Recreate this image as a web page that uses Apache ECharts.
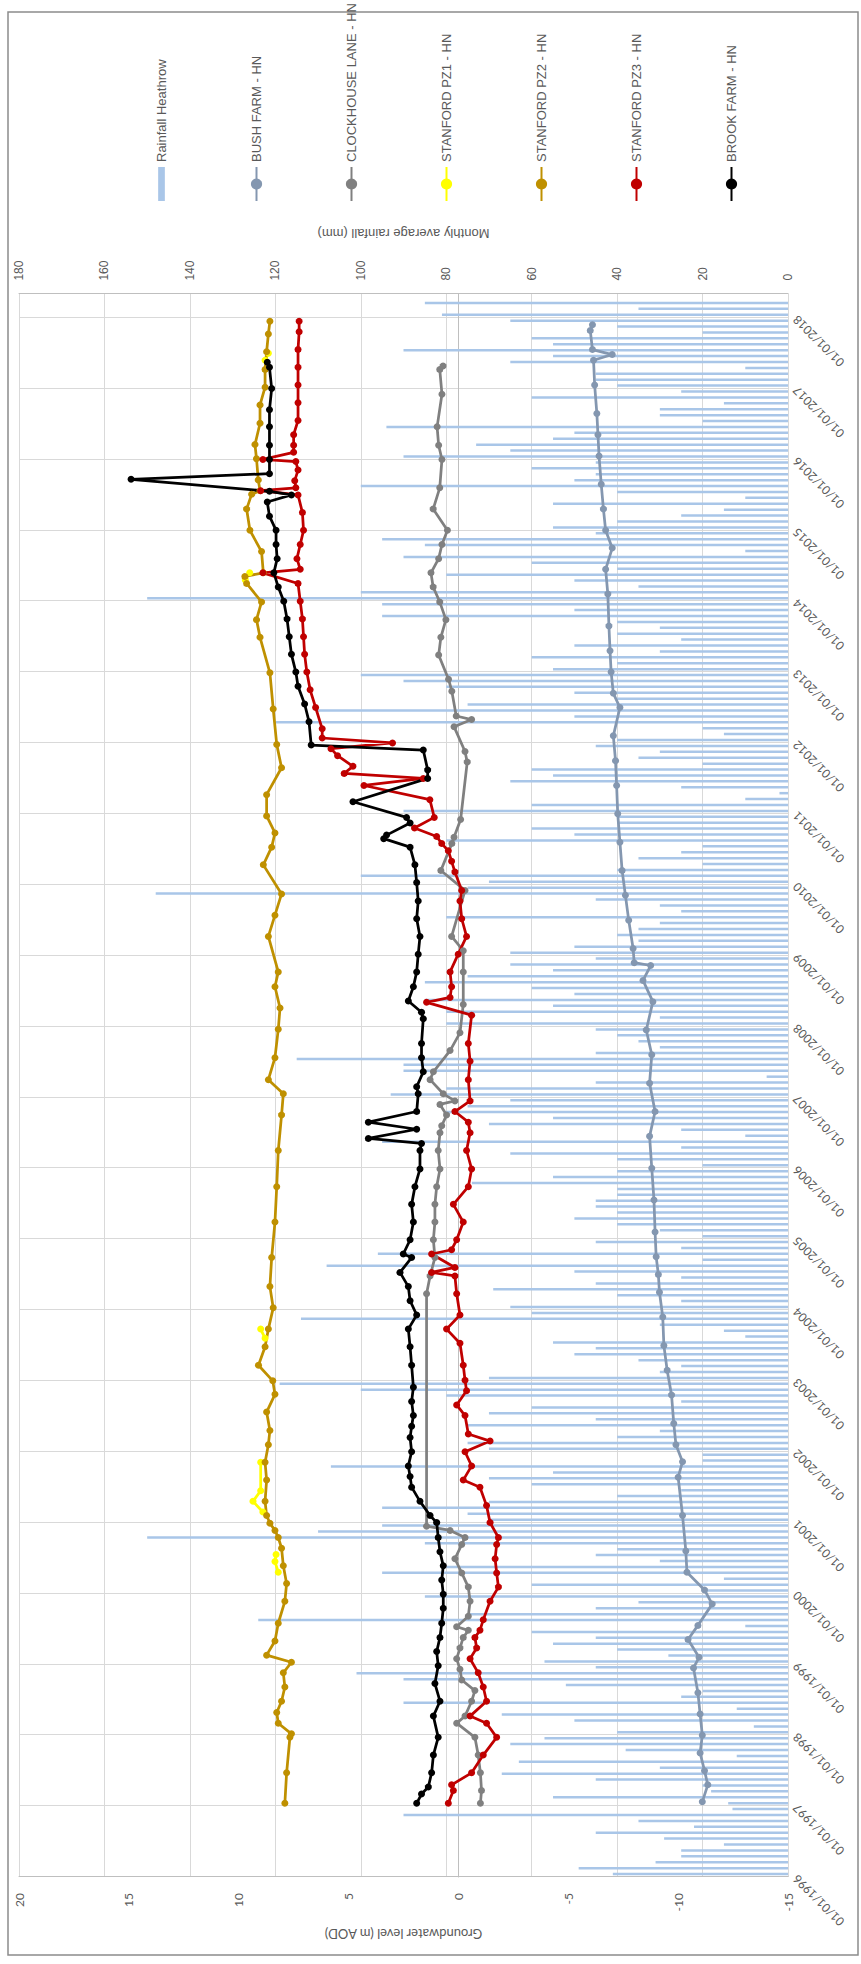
<!DOCTYPE html>
<html>
<head>
<meta charset="utf-8">
<script src="https://cdn.jsdelivr.net/npm/echarts@6.0.0/dist/echarts.min.js"></script>
<style>
html, body { margin: 0; padding: 0; background: #fff; overflow: hidden; width: 861px; height: 1964px; }
/* chart is drawn landscape, then turned a quarter turn anticlockwise like the scan */
#main { position: absolute; left: 0; top: 0; width: 1964px; height: 861px; transform-origin: 0 0; transform: translateY(1964px) rotate(-90deg); }
</style>
</head>
<body>
<div id="main"></div>
<script>
// monthly rainfall Heathrow (mm), Jan 1996 .. Mar 2018
const rainfall = [
  41, 49, 31, 25, 25, 15, 29, 45, 22, 35, 90, 13,
  14, 55, 18, 20, 45, 67, 30, 63, 12, 38, 65, 57,
  40, 8, 50, 67, 12, 90, 25, 20, 52, 90, 101, 45,
  57, 28, 40, 55, 45, 60, 10, 124, 75, 45, 35, 85,
  20, 60, 15, 95, 80, 30, 45, 40, 85, 150, 110, 95,
  70, 75, 95, 70, 40, 25, 60, 70, 55, 107, 20, 20,
  70, 75, 40, 30, 75, 45, 70, 60, 25, 80, 100, 119,
  70, 30, 25, 35, 50, 45, 55, 10, 15, 30, 114, 60,
  65, 25, 40, 69, 45, 25, 50, 108, 20, 96, 25, 45,
  20, 30, 40, 50, 40, 45, 45, 40, 40, 74, 55, 40,
  20, 40, 65, 25, 95, 10, 25, 70, 55, 80, 75, 65,
  93, 80, 45, 5, 90, 90, 115, 45, 30, 35, 40, 45,
  80, 30, 80, 55, 85, 50, 60, 85, 75, 55, 65, 45,
  65, 50, 35, 40, 35, 30, 80, 25, 30, 45, 148, 75,
  70, 100, 40, 20, 35, 25, 20, 80, 50, 60, 40, 40,
  90, 60, 10, 2, 25, 65, 55, 60, 20, 35, 30, 45,
  40, 15, 20, 120, 50, 110, 75, 40, 50, 80, 90, 100,
  55, 40, 60, 30, 50, 25, 40, 30, 40, 95, 50, 95,
  150, 100, 35, 50, 80, 40, 60, 90, 10, 85, 95, 45,
  55, 40, 25, 15, 55, 10, 40, 100, 50, 45, 60, 45,
  90, 65, 73, 55, 50, 94, 20, 30, 30, 15, 60, 25,
  40, 45, 45, 10, 65, 55, 90, 55, 60, 20, 40, 65,
  81, 35, 85
]
const rainStart = 1996

// groundwater levels, [decimal year, m AOD]
const bushFarm = [
  [1997.06,-11.1],[1997.3,-11.35],[1997.5,-11.2],[1997.75,-11.0],[1998.0,-11.1],[1998.3,-11.0],
  [1998.6,-10.9],[1998.95,-10.7],[1999.1,-10.95],[1999.35,-10.45],[1999.55,-10.9],[1999.85,-11.55],
  [2000.05,-11.2],[2000.3,-10.4],[2000.6,-10.35],[2001.1,-10.2],[2001.64,-10.0],[2001.86,-10.2],
  [2002.1,-9.9],[2002.4,-9.8],[2002.8,-9.7],[2003.15,-9.5],[2003.5,-9.35],[2003.9,-9.3],
  [2004.25,-9.15],[2004.5,-9.1],[2004.75,-9.0],[2005.1,-8.95],[2005.55,-8.9],[2006.0,-8.8],
  [2006.45,-8.7],[2006.8,-8.95],[2007.2,-8.7],[2007.6,-8.8],[2007.95,-8.55],[2008.35,-8.85],
  [2008.65,-8.4],[2008.86,-8.75],[2008.9,-8.0],[2009.1,-7.95],[2009.5,-7.75],[2009.85,-7.6],
  [2010.2,-7.45],[2010.6,-7.35],[2011.0,-7.25],[2011.4,-7.2],[2011.75,-7.15],[2012.1,-7.05],
  [2012.5,-7.35],[2012.7,-7.05],[2013.0,-6.95],[2013.3,-6.9],[2013.65,-6.85],[2014.1,-6.8],
  [2014.45,-6.7],[2014.75,-7.0],[2015.0,-6.7],[2015.3,-6.6],[2015.65,-6.5],[2016.05,-6.4],
  [2016.35,-6.35],[2016.65,-6.3],[2017.05,-6.2],[2017.4,-6.15],[2017.48,-7.0],[2017.55,-6.1],
  [2017.82,-6.0],[2017.9,-6.1]
]
const clockhouseLane = [
  [1997.04,-1.0],[1997.22,-1.05],[1997.47,-1.0],[1997.72,-0.9],[1997.97,-0.75],[1998.17,0.08],
  [1998.27,-0.3],[1998.48,-0.6],[1998.63,-0.75],[1998.78,-0.15],[1998.93,-0.07],[1999.08,0.08],
  [1999.23,-0.07],[1999.38,-0.22],[1999.48,-0.45],[1999.53,0.08],[1999.68,-0.45],[1999.89,-0.53],
  [2000.09,-0.45],[2000.29,-0.15],[2000.49,0.16],[2000.69,-0.15],[2000.79,-0.3],[2000.89,0.38],
  [2000.95,1.45],[2004.23,1.45],[2004.48,1.29],[2004.74,1.07],[2004.99,1.14],[2005.24,1.07],
  [2005.49,1.07],[2005.74,0.99],[2005.99,0.84],[2006.25,0.92],[2006.5,0.84],[2006.6,0.76],
  [2006.75,0.54],[2006.9,0.84],[2006.95,0.16],[2007.05,0.69],[2007.25,1.29],[2007.36,1.14],
  [2007.66,0.38],[2007.91,-0.07],[2008.31,-0.22],[2008.77,-0.22],[2009.07,-0.22],[2009.27,0.31],
  [2009.92,-0.3],[2010.2,0.8],[2010.58,0.3],[2010.67,0.2],[2010.92,-0.1],[2011.73,-0.4],
  [2011.88,-0.3],[2012.23,0.2],[2012.33,-0.6],[2012.38,0.1],[2012.73,0.3],[2012.9,0.45],
  [2013.24,0.9],[2013.49,0.8],[2013.74,0.57],[2013.99,0.85],[2014.2,1.15],[2014.4,1.25],
  [2014.6,0.9],[2014.8,0.75],[2015.0,0.5],[2015.3,1.15],[2015.6,0.85],[2016.0,0.75],
  [2016.2,0.9],[2016.46,0.97],[2016.92,0.75],[2017.27,0.85],[2017.32,0.7]
]
const stanfordPz1 = [
  [2000.3,8.2],[2000.45,8.35],[2000.55,8.3], null,
  [2001.15,8.9],[2001.3,9.35],[2001.45,9.0],[2001.85,9.0], null,
  [2003.6,8.8],[2003.73,9.0], null,
  [2014.3,9.7],[2014.4,9.5], null,
  [2017.4,8.8],[2017.5,8.65]
]
const stanfordPz2 = [
  [1997.04,7.9],[1997.47,7.82],[1997.97,7.67],[1998.02,7.6],[1998.17,8.2],[1998.32,8.27],
  [1998.48,8.05],[1998.68,7.9],[1998.88,7.97],[1999.03,7.6],[1999.13,8.73],[1999.33,8.35],
  [1999.58,8.2],[1999.89,7.9],[2000.14,7.82],[2000.39,7.97],[2000.64,8.05],[2000.79,8.2],
  [2000.89,8.35],[2000.99,8.58],[2001.1,8.73],[2001.3,8.8],[2001.6,8.73],[2001.85,8.8],
  [2002.1,8.65],[2002.3,8.58],[2002.56,8.73],[2002.81,8.35],[2003.0,8.45],[2003.22,9.1],
  [2003.48,8.8],[2003.73,8.65],[2004.03,8.43],[2004.33,8.58],[2004.74,8.5],[2005.24,8.35],
  [2005.74,8.27],[2006.25,8.2],[2006.75,8.05],[2007.05,7.97],[2007.25,8.65],[2007.56,8.35],
  [2007.96,8.2],[2008.26,8.12],[2008.56,8.35],[2008.77,8.2],[2009.27,8.65],[2009.57,8.35],
  [2009.87,8.05],[2010.28,8.88],[2010.53,8.5],[2010.73,8.35],[2010.97,8.73],[2011.27,8.73],
  [2011.65,8.05],[2011.98,8.27],[2012.48,8.43],[2012.99,8.58],[2013.49,9.03],[2013.74,9.19],
  [2013.99,8.96],[2014.25,9.64],[2014.35,9.72],[2014.4,8.88],[2014.7,8.96],[2015.0,9.49],
  [2015.3,9.64],[2015.51,9.41],[2015.56,9.03],[2015.71,9.11],[2016.01,9.19],[2016.21,9.26],
  [2016.51,9.03],[2016.77,9.03],[2017.02,8.8],[2017.27,8.8],[2017.52,8.73],[2017.77,8.65],
  [2017.95,8.58]
]
const stanfordPz3 = [
  [1997.04,0.46],[1997.22,0.23],[1997.3,0.31],[1997.47,-0.6],[1997.72,-1.13],[1997.97,-1.74],
  [1998.17,-1.28],[1998.27,-0.53],[1998.48,-1.28],[1998.68,-1.13],[1998.88,-0.9],[1999.08,-0.53],
  [1999.23,-0.83],[1999.38,-0.75],[1999.48,-0.98],[1999.63,-1.13],[1999.89,-1.44],[2000.09,-1.82],
  [2000.29,-1.74],[2000.49,-1.67],[2000.69,-1.74],[2000.79,-1.82],[2001.0,-1.44],[2001.24,-1.28],
  [2001.5,-0.98],[2001.6,-0.22],[2001.8,-0.6],[2002.0,-0.3],[2002.15,-1.44],[2002.25,-0.45],
  [2002.51,-0.3],[2002.66,0.08],[2002.86,-0.37],[2003.01,-0.3],[2003.22,-0.22],[2003.53,-0.07],
  [2003.73,0.54],[2003.93,-0.07],[2004.23,0.08],[2004.48,0.16],[2004.53,1.22],[2004.6,0.16],
  [2004.79,1.22],[2004.85,0.31],[2004.99,0.08],[2005.24,-0.22],[2005.49,0.23],[2005.74,-0.45],
  [2005.99,-0.6],[2006.25,-0.37],[2006.5,-0.53],[2006.65,-0.45],[2006.8,0.16],[2006.95,-0.53],
  [2007.25,-0.45],[2007.51,-0.53],[2007.76,-0.45],[2008.16,-0.6],[2008.34,1.45],[2008.41,0.38],
  [2008.56,0.31],[2008.77,0.38],[2009.02,0.01],[2009.27,-0.37],[2009.52,-0.15],[2009.77,-0.07],
  [2009.92,-0.15],[2010.18,0.16],[2010.33,0.31],[2010.48,0.46],[2010.58,0.76],[2010.68,0.99],
  [2010.8,2.0],[2010.95,1.1],[2011.2,1.3],[2011.4,4.3],[2011.5,1.6],[2011.57,5.2],
  [2011.67,4.8],[2011.82,5.5],[2011.92,5.8],[2012.0,3.0],[2012.07,6.2],[2012.2,6.2],
  [2012.5,6.5],[2012.75,6.75],[2013.0,6.9],[2013.25,7.0],[2013.5,7.05],[2013.75,7.1],
  [2014.0,7.2],[2014.25,7.3],[2014.4,8.9],[2014.45,7.2],[2014.6,7.35],[2014.8,7.2],
  [2015.0,7.05],[2015.25,7.1],[2015.5,7.3],[2015.56,9.0],[2015.6,7.4],[2015.7,7.45],
  [2015.85,7.3],[2015.97,7.4],[2016.0,8.9],[2016.1,7.5],[2016.2,7.5],[2016.35,7.5],
  [2016.55,7.3],[2016.8,7.3],[2017.05,7.3],[2017.3,7.3],[2017.55,7.3],[2017.8,7.25],
  [2017.95,7.25]
]
const brookFarm = [
  [1997.04,1.9],[1997.17,1.68],[1997.27,1.37],[1997.47,1.22],[1997.72,1.14],[1997.97,0.92],
  [1998.27,1.14],[1998.48,0.84],[1998.73,1.07],[1998.98,0.92],[1999.18,0.99],[1999.38,0.84],
  [1999.58,0.76],[1999.79,0.69],[1999.99,0.69],[2000.19,0.76],[2000.39,0.69],[2000.59,0.84],
  [2000.79,0.92],[2001.0,0.99],[2001.1,1.29],[2001.3,1.75],[2001.5,2.13],[2001.65,2.2],
  [2001.8,2.28],[2002.0,2.13],[2002.2,2.2],[2002.36,2.13],[2002.51,2.05],[2002.71,2.13],
  [2002.91,2.05],[2003.22,2.13],[2003.48,2.2],[2003.73,2.28],[2003.93,1.9],[2004.13,2.2],
  [2004.33,2.28],[2004.53,2.66],[2004.74,2.13],[2004.79,2.51],[2004.99,2.2],[2005.24,2.05],
  [2005.49,2.13],[2005.74,1.98],[2005.99,1.75],[2006.25,1.75],[2006.35,1.68],[2006.42,4.1],
  [2006.55,1.9],[2006.65,4.1],[2006.8,1.9],[2007.05,1.83],[2007.15,1.9],[2007.36,1.6],
  [2007.56,1.68],[2007.76,1.68],[2008.11,1.6],[2008.2,1.68],[2008.36,2.28],[2008.56,2.05],
  [2008.77,1.9],[2009.02,1.83],[2009.27,1.75],[2009.52,1.9],[2009.77,1.83],[2010.03,1.9],
  [2010.28,1.98],[2010.53,2.2],[2010.65,3.4],[2010.7,3.27],[2010.87,2.2],[2010.95,2.36],
  [2011.17,4.8],[2011.5,1.4],[2011.62,1.4],[2011.9,1.6],[2011.97,6.7],[2012.3,6.8],
  [2012.55,7.0],[2012.8,7.3],[2013.0,7.4],[2013.25,7.6],[2013.5,7.7],[2013.75,7.8],
  [2014.0,7.95],[2014.2,8.2],[2014.4,8.4],[2014.6,8.25],[2014.8,8.3],[2015.0,8.3],
  [2015.2,8.6],[2015.4,8.7],[2015.5,7.6],[2015.55,8.6],[2015.72,14.9],[2015.8,8.6],
  [2016.0,8.6],[2016.2,8.6],[2016.46,8.6],[2016.7,8.6],[2017.0,8.5],[2017.3,8.6],
  [2017.37,8.7]
]

const tickFont = 'Lato, "Open Sans", sans-serif'
const legendFont = '"Liberation Sans", Arial, sans-serif'

function levelLine(name, data, color) {
  return {
    name: name,
    type: 'line',
    data: data,
    connectNulls: false,
    symbol: 'circle',
    symbolSize: 7,
    showAllSymbol: true,
    itemStyle: { color: color },
    lineStyle: { color: color, width: 2.75 },
    z: 3
  }
}

let myChart = echarts.init(document.getElementById('main'), null, { renderer: 'svg', width: 1964, height: 861 })
let option = {
  animation: false,
  backgroundColor: '#ffffff',
  grid: { left: 87, right: 293.6, top: 19, bottom: 73 },
  graphic: [{
    type: 'rect',
    silent: true,
    z: -10,
    shape: { x: 9, y: 8, width: 1943, height: 850 },
    style: { fill: 'none', stroke: '#8c8c8c', lineWidth: 1.5 }
  }],
  legend: {
    orient: 'vertical',
    left: 1757,
    top: 150,
    itemWidth: 34,
    itemHeight: 14,
    itemGap: 82,
    textStyle: { color: '#595959', fontSize: 13, fontFamily: legendFont },
    data: [
      { name: 'Rainfall Heathrow', icon: 'path://M0,0h33v6.5h-33z' },
      'BUSH FARM - HN', 'CLOCKHOUSE LANE - HN', 'STANFORD PZ1 - HN',
      'STANFORD PZ2 - HN', 'STANFORD PZ3 - HN', 'BROOK FARM - HN'
    ]
  },
  xAxis: {
    type: 'value',
    min: 1996,
    max: 2018.34,
    interval: 1,
    axisLine: { lineStyle: { color: '#bfbfbf' } },
    axisTick: { show: false },
    splitLine: { show: true, lineStyle: { color: '#d9d9d9' } },
    axisLabel: {
      rotate: 45,
      margin: 7,
      color: '#595959',
      fontSize: 12,
      fontFamily: tickFont,
      formatter: v => Number.isInteger(v) ? '01/01/' + v : ''
    }
  },
  yAxis: [
    {
      type: 'value',
      position: 'left',
      min: -15,
      max: 20,
      interval: 5,
      name: 'Groundwater level (m AOD)',
      nameLocation: 'middle',
      nameGap: 50,
      nameRotate: 90,
      nameTextStyle: { color: '#595959', fontSize: 13, fontFamily: tickFont },
      axisLine: { show: true, lineStyle: { color: '#bfbfbf' } },
      axisTick: { show: false },
      splitLine: { show: false },
      axisLabel: { color: '#595959', fontSize: 12, fontFamily: tickFont, margin: 16 }
    },
    {
      type: 'value',
      position: 'right',
      min: 0,
      max: 180,
      interval: 20,
      name: 'Monthly average rainfall (mm)',
      nameLocation: 'middle',
      nameGap: 54,
      nameRotate: 90,
      nameTextStyle: { color: '#595959', fontSize: 13, fontFamily: legendFont },
      axisLine: { show: true, lineStyle: { color: '#bfbfbf' } },
      axisTick: { show: false },
      splitLine: { show: true, lineStyle: { color: '#d9d9d9' } },
      axisLabel: { color: '#595959', fontSize: 12, fontFamily: legendFont, margin: 13 }
    }
  ],
  series: [
    {
      name: 'Rainfall Heathrow',
      type: 'bar',
      yAxisIndex: 1,
      barWidth: 2.5,
      itemStyle: { color: '#a9c6e8' },
      data: rainfall.map((v, i) => [rainStart + (i + 0.5) / 12, v]),
      z: 1
    },
    levelLine('BUSH FARM - HN', bushFarm, '#8497b0'),
    levelLine('CLOCKHOUSE LANE - HN', clockhouseLane, '#808080'),
    levelLine('STANFORD PZ1 - HN', stanfordPz1, '#ffff00'),
    levelLine('STANFORD PZ2 - HN', stanfordPz2, '#bf9000'),
    levelLine('STANFORD PZ3 - HN', stanfordPz3, '#c00000'),
    levelLine('BROOK FARM - HN', brookFarm, '#000000')
  ]
}
myChart.setOption(option)
</script>
</body>
</html>
